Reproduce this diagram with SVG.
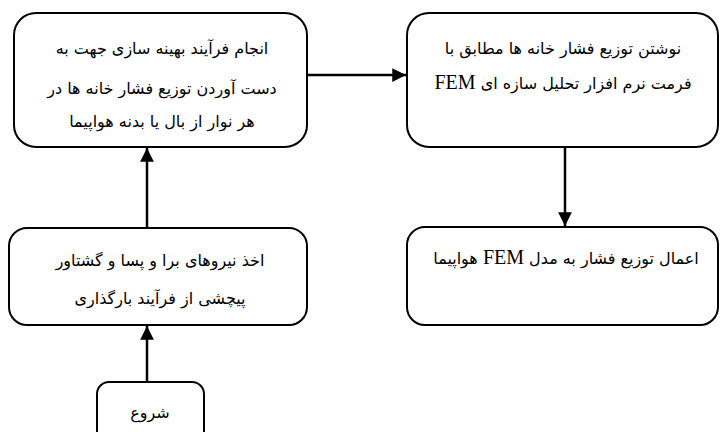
<svg xmlns="http://www.w3.org/2000/svg" width="720" height="432" viewBox="0 0 720 432">
<defs>
<marker id="ah" viewBox="0 0 10 10" refX="10" refY="5" markerWidth="5.5" markerHeight="5.5" orient="auto" markerUnits="strokeWidth">
<path d="M0,0 L10,5 L0,10 z" fill="#000"/>
</marker>
<style>
.box{fill:#fff;stroke:#000;stroke-width:2}
.t{font-family:"DejaVu Sans",sans-serif;font-size:16px;fill:#000;text-anchor:middle;direction:rtl}
.en{font-family:"Liberation Serif",serif;font-size:20px}
.c{stroke:#000;stroke-width:2.5;fill:none;marker-end:url(#ah)}
</style>
</defs>
<rect width="720" height="432" fill="#fff"/>
<g id="connectors">
<line class="c" x1="307" y1="75" x2="406" y2="75"/>
<line class="c" x1="565" y1="147" x2="565" y2="226"/>
<line class="c" x1="147" y1="228" x2="147" y2="148"/>
<line class="c" x1="147" y1="382" x2="147" y2="326"/>
</g>
<g id="n1">
<rect class="box" x="14" y="13" width="293" height="134" rx="22"/>
<text class="t" x="162" y="54">انجام فرآیند بهینه سازی جهت به</text>
<text class="t" x="162" y="94">دست آوردن توزیع فشار خانه ها در</text>
<text class="t" x="162" y="127">هر نوار از بال یا بدنه هواپیما</text>
</g>
<g id="n2">
<rect class="box" x="407" y="13" width="311" height="134" rx="22"/>
<text class="t" x="563" y="54">نوشتن توزیع فشار خانه ها مطابق با</text>
<text class="t" x="563" y="89">فرمت نرم افزار تحلیل سازه ای <tspan class="en">FEM</tspan></text>
</g>
<g id="n3">
<rect class="box" x="9" y="228" width="298" height="97" rx="18"/>
<text class="t" x="160" y="266">اخذ نیروهای برا و پسا و گشتاور</text>
<text class="t" x="160" y="304">پیچشی از فرآیند بارگذاری</text>
</g>
<g id="n4">
<rect class="box" x="407" y="227" width="311" height="98" rx="18"/>
<text class="t" x="566" y="264">اعمال توزیع فشار به مدل <tspan class="en">FEM</tspan> هواپیما</text>
</g>
<g id="n5">
<rect class="box" x="97" y="382" width="107" height="62" rx="12"/>
<text class="t" x="150" y="418">شروع</text>
</g>
</svg>
